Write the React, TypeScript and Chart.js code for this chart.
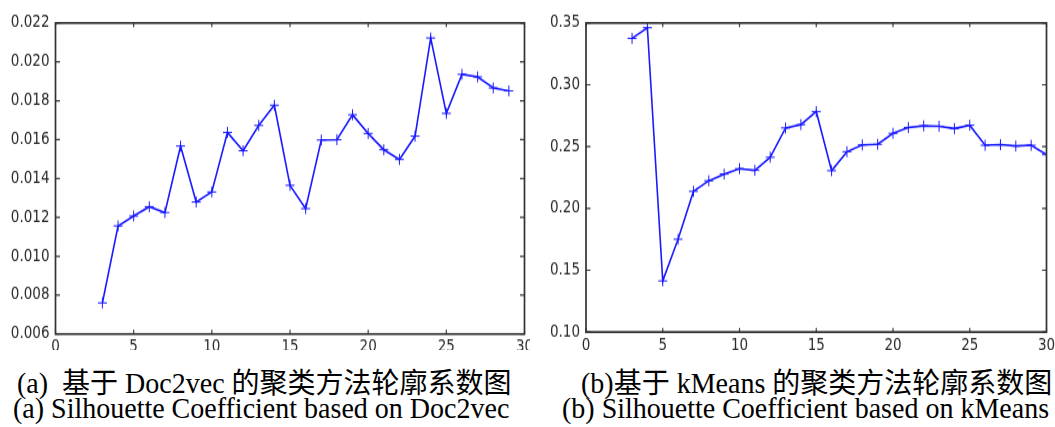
import React, { useEffect, useRef } from "react";
import { Chart, registerables } from "chart.js";

Chart.register(...registerables);

// ---- data ----
const doc2vecK = [3, 4, 5, 6, 7, 8, 9, 10, 11, 12, 13, 14, 15, 16, 17, 18, 19, 20, 21, 22, 23, 24, 25, 26, 27, 28, 29];
const doc2vecScores = [
  0.0076, 0.01156, 0.01207, 0.01255, 0.01225, 0.01567, 0.01279, 0.01331, 0.01637, 0.01543,
  0.01673, 0.01777, 0.01365, 0.01245, 0.01598, 0.016, 0.01728, 0.01632, 0.01548, 0.01498,
  0.01618, 0.02123, 0.01735, 0.01936, 0.01923, 0.01866, 0.01851,
];
const kMeansK = [3, 4, 5, 6, 7, 8, 9, 10, 11, 12, 13, 14, 15, 16, 17, 18, 19, 20, 21, 22, 23, 24, 25, 26, 27, 28, 29, 30];
const kMeansScores = [
  0.3376, 0.3462, 0.1414, 0.1751, 0.2138, 0.2224, 0.2278, 0.2322, 0.2308, 0.2414,
  0.2651, 0.2678, 0.2784, 0.2305, 0.2459, 0.2514, 0.2519, 0.2608, 0.2654, 0.2668,
  0.2665, 0.2646, 0.2673, 0.2511, 0.2516, 0.2505, 0.2511, 0.2435,
];
const xMin = 0;
const xMax = 30;
const xStep = 5;
const leftYRange = [0.006, 0.022];
const leftYStep = 0.002;
const rightYRange = [0.1, 0.35];
const rightYStep = 0.05;

const captionsA = ["(a)  基于 Doc2vec 的聚类方法轮廓系数图", "(a) Silhouette Coefficient based on Doc2vec"];
const captionsB = ["(b)基于 kMeans 的聚类方法轮廓系数图", "(b) Silhouette Coefficient based on kMeans"];

const STRETCH = 1.22;
const H0 = 287;

const framePlugin = {
  id: "mplFrame",
  afterDraw(chart: any) {
    const { ctx, chartArea, scales } = chart;
    const { left, right, top, bottom } = chartArea;
    const x = scales.x;
    const y = scales.y;
    ctx.save();
    ctx.strokeStyle = "#3a3a3a";
    ctx.lineWidth = 1.2;
    ctx.beginPath();
    x.ticks.forEach((t: any) => {
      const px = x.getPixelForValue(t.value);
      ctx.moveTo(px, bottom);
      ctx.lineTo(px, bottom - 3.5);
      ctx.moveTo(px, top);
      ctx.lineTo(px, top + 3.5);
    });
    y.ticks.forEach((t: any) => {
      const py = y.getPixelForValue(t.value);
      ctx.moveTo(left, py);
      ctx.lineTo(left + 4.5, py);
      ctx.moveTo(right, py);
      ctx.lineTo(right - 4.5, py);
    });
    ctx.stroke();
    ctx.lineWidth = 1.7;
    ctx.strokeStyle = "#333";
    ctx.strokeRect(left, top, right - left, bottom - top);
    ctx.restore();
  },
};

type Area = { left: number; right: number; top: number; bottom: number };

function LineChart(props: {
  width: number;
  xs: number[];
  ys: number[];
  yRange: number[];
  yStep: number;
  decimals: number;
  area: Area;
}) {
  const ref = useRef<HTMLCanvasElement | null>(null);
  const { width, xs, ys, yRange, yStep, decimals, area } = props;
  useEffect(() => {
    if (!ref.current) return;
    const tickFont = { family: "'DejaVu Sans', sans-serif", size: 13.5 };
    const chart = new Chart(ref.current, {
      type: "line",
      data: {
        datasets: [
          {
            data: xs.map((x, i) => ({ x, y: ys[i] })),
            borderColor: "#1a1aff",
            backgroundColor: "#1a1aff",
            borderWidth: 1.6,
            pointStyle: "cross",
            pointRadius: 4.5,
            pointBorderWidth: 1,
            pointBorderColor: "#1a1aff",
            tension: 0,
            fill: false,
          },
        ],
      },
      options: {
        responsive: false,
        animation: false,
        devicePixelRatio: 1,
        events: [],
        layout: { padding: { top: area.top, right: width - area.right, left: 0, bottom: 0 } },
        plugins: { legend: { display: false }, tooltip: { enabled: false }, title: { display: false } },
        scales: {
          x: {
            type: "linear",
            min: xMin,
            max: xMax,
            grid: { display: false, drawTicks: false },
            border: { display: false },
            ticks: { stepSize: xStep, padding: 3, color: "#2a2a2a", font: tickFont, maxRotation: 0, autoSkip: false },
            afterFit: (s: any) => {
              s.height = H0 - area.bottom;
              s.paddingLeft = 0;
              s.paddingRight = 0;
            },
          },
          y: {
            type: "linear",
            min: yRange[0],
            max: yRange[1],
            grid: { display: false, drawTicks: false },
            border: { display: false },
            ticks: {
              stepSize: yStep,
              padding: 6,
              color: "#2a2a2a",
              font: tickFont,
              autoSkip: false,
              callback: (v: any) => Number(v).toFixed(decimals),
            },
            afterFit: (s: any) => {
              s.width = area.left;
              s.paddingTop = 0;
              s.paddingBottom = 0;
            },
          },
        },
      },
      plugins: [framePlugin],
    } as any);
    return () => chart.destroy();
  }, []);
  return <canvas ref={ref} width={width} height={H0} style={{ display: "block" }} />;
}

const captionStyle: React.CSSProperties = {
  position: "absolute",
  whiteSpace: "pre",
  fontFamily: "'Liberation Serif', 'Noto Sans CJK SC', serif",
  fontSize: 28,
  lineHeight: "25px",
  color: "#000",
  transform: "scaleY(1.02)",
  transformOrigin: "top left",
};

export default function App() {
  return (
    <div style={{ position: "absolute", left: 0, top: 0, width: 1055, height: 427, background: "#fff", overflow: "hidden" }}>
      <div style={{ position: "absolute", left: 0, top: 0, transform: `scaleY(${STRETCH})`, transformOrigin: "top left" }}>
        <LineChart
          width={530}
          xs={doc2vecK}
          ys={doc2vecScores}
          yRange={leftYRange}
          yStep={leftYStep}
          decimals={3}
          area={{ left: 55.5, right: 526, top: 23 / STRETCH, bottom: 334 / STRETCH }}
        />
      </div>
      <div style={{ position: "absolute", left: 530, top: 0, transform: `scaleY(${STRETCH})`, transformOrigin: "top left" }}>
        <LineChart
          width={525}
          xs={kMeansK}
          ys={kMeansScores}
          yRange={rightYRange}
          yStep={rightYStep}
          decimals={2}
          area={{ left: 56, right: 516.5, top: 23 / STRETCH, bottom: 332 / STRETCH }}
        />
      </div>
      <div style={{ ...captionStyle, left: 17, top: 371 }}>{captionsA[0]}</div>
      <div style={{ ...captionStyle, left: 13, top: 396 }}>{captionsA[1]}</div>
      <div style={{ ...captionStyle, left: 581, top: 371 }}>{captionsB[0]}</div>
      <div style={{ ...captionStyle, left: 562, top: 396 }}>{captionsB[1]}</div>
    </div>
  );
}
